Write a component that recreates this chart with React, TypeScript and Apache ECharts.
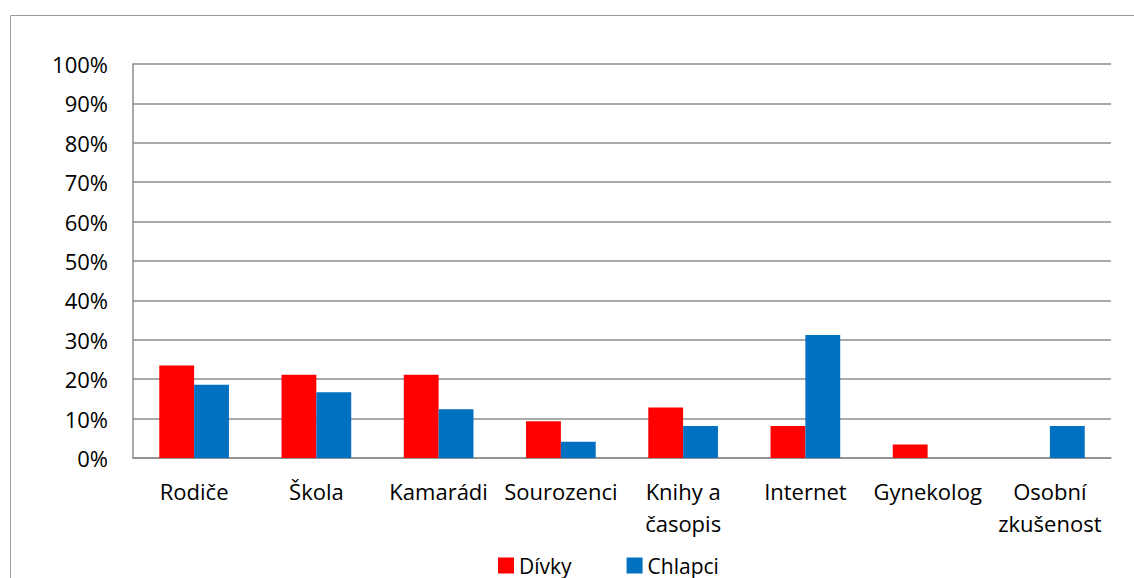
import React, { useEffect, useRef } from "react";
import * as echarts from "echarts";

// Sources of information, share of answers (%)
const categories = [
  "Rodiče",
  "Škola",
  "Kamarádi",
  "Sourozenci",
  "Knihy a\nčasopis",
  "Internet",
  "Gynekolog",
  "Osobní\nzkušenost",
];
const divky = [23.5, 21.1, 21.1, 9.3, 12.8, 8.1, 3.4, 0];
const chlapci = [18.6, 16.7, 12.4, 4.1, 8.1, 31.2, 0, 8.1];
const seriesNames = ["Dívky", "Chlapci"];
const yTicks = [0, 10, 20, 30, 40, 50, 60, 70, 80, 90, 100];

const FONT = "'Open Sans', sans-serif";
const GRID_COLOR = "#8c8c8c";

export default function App() {
  const ref = useRef<HTMLDivElement>(null);

  useEffect(() => {
    document.body.style.margin = "0";
    const chart = echarts.init(ref.current!, undefined, { renderer: "svg" });
    chart.setOption({
      animation: false,
      backgroundColor: "#ffffff",
      textStyle: { fontFamily: FONT, color: "#000" },
      graphic: [
        {
          type: "rect",
          shape: { x: 10.5, y: 15.5, width: 1300, height: 800 },
          style: { fill: "none", stroke: "#9a9a9a", lineWidth: 1 },
          silent: true,
        },
      ],
      grid: { left: 133, right: 23, top: 64, bottom: 120 },
      legend: {
        data: seriesNames,
        left: 498,
        top: 555,
        itemWidth: 16,
        itemHeight: 16,
        itemGap: 55,
        icon: "rect",
        textStyle: { fontFamily: FONT, fontSize: 21, color: "#000" },
        padding: 0,
      },
      xAxis: {
        type: "category",
        data: categories,
        axisLine: { show: true, lineStyle: { color: GRID_COLOR, width: 1.5 } },
        axisTick: { show: false },
        axisLabel: {
          interval: 0,
          margin: 17,
          fontFamily: FONT,
          fontSize: 22,
          color: "#000",
          lineHeight: 32,
          verticalAlign: "top",
        },
      },
      yAxis: {
        type: "value",
        min: yTicks[0],
        max: yTicks[yTicks.length - 1],
        interval: 10,
        axisLine: { show: true, lineStyle: { color: GRID_COLOR, width: 1.5 } },
        axisTick: { show: false },
        splitLine: { show: true, lineStyle: { color: GRID_COLOR, width: 1.5 } },
        axisLabel: {
          margin: 25,
          fontFamily: FONT,
          fontSize: 22,
          color: "#000",
          formatter: (v: number) => `${v}%`,
        },
      },
      series: [
        {
          name: seriesNames[0],
          type: "bar",
          data: divky,
          itemStyle: { color: "#ff0000" },
          barGap: "0%",
          barCategoryGap: "43%",
        },
        {
          name: seriesNames[1],
          type: "bar",
          data: chlapci,
          itemStyle: { color: "#0070c0" },
          barGap: "0%",
          barCategoryGap: "43%",
        },
      ],
    });
    return () => chart.dispose();
  }, []);

  return <div ref={ref} style={{ width: 1134, height: 578 }} />;
}
